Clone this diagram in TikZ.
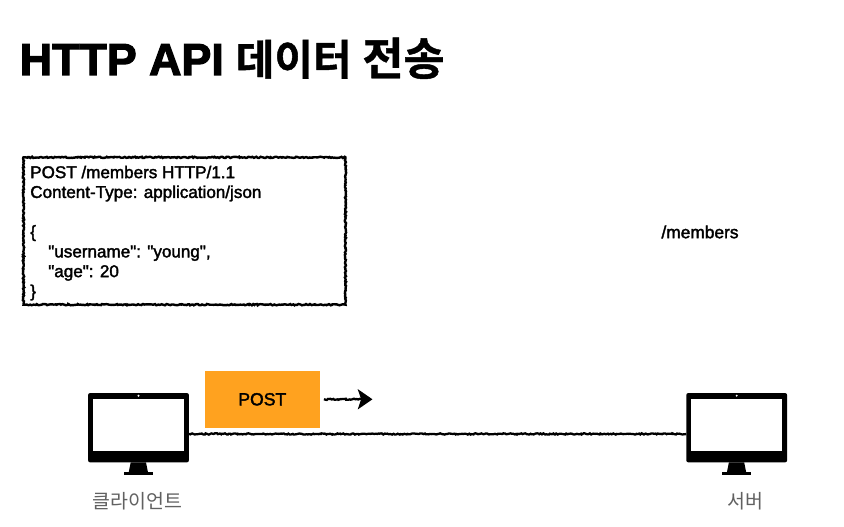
\documentclass[tikz,border=0pt]{standalone}
\usepackage{fontspec}
\setmainfont{Liberation Sans}
\newfontfamily\krbold{Noto Sans CJK KR Bold}[FakeBold=1]
\newfontfamily\krreg{Noto Sans CJK KR}
\newfontfamily\latbold{Liberation Sans}[FakeBold=2]
\newfontfamily\titlelat{Liberation Sans Bold}[FakeBold=2.5]
\usetikzlibrary{arrows.meta,decorations.pathmorphing,calc}
\definecolor{orange1}{HTML}{FFA21F}
\tikzset{
  rough/.style={decorate,decoration={random steps,segment length=1pt,amplitude=0.5pt}},
  monitor/.style={fill=black,rounded corners=1.5pt,minimum width=75.6pt,minimum height=52pt,inner sep=0pt,outer sep=0pt},
  screen/.style={fill=white,minimum width=68.4pt,minimum height=38.6pt,inner sep=0pt},
  devlabel/.style={text=black!62,font=\krreg\fontsize{14.6pt}{16pt}\selectfont,inner sep=0pt},
  msgbox/.style={draw=black,line width=1.8pt,rough,minimum width=241.5pt,minimum height=110.5pt,inner sep=0pt},
  msgtext/.style={align=left,anchor=north west,inner sep=0pt,font=\latbold\fontsize{12.8pt}{14.85pt}\selectfont},
  methodbox/.style={fill=orange1,minimum width=86pt,minimum height=42.5pt,inner sep=0pt,font=\latbold\fontsize{13.2pt}{14pt}\selectfont},
  wire/.style={draw=black,line width=1.7pt,rough},
}
\newcommand{\drawmonitor}[2]{%
  \node[monitor] (#1) at (#2,427.7) {};
  \node[screen] (#1scr) at ($(#1.center)+(0,-2.7)$) {};
  \fill[white] ($(#1.center)+(0,-32)$) circle (0.8pt);
  \fill[black] ($(#1.center)+(-7.8,34.7)$) -- ($(#1.center)+(7.5,34.7)$) -- ($(#1.center)+(9.5,44.6)$) -- ($(#1.center)+(-9.8,44.6)$) -- cycle;
  \fill[black] ($(#1.center)+(-14.5,44.6)$) rectangle ($(#1.center)+(14.5,47.6)$);
}
\begin{document}
\begin{tikzpicture}[x=0.75pt,y=-0.75pt]
\useasboundingbox[fill=white] (0,0) rectangle (844,527);
\node[anchor=base west,inner sep=0pt] (title) at (19.5,75) {\fontsize{33.6pt}{36pt}\selectfont{\titlelat HTTP API}\hspace{9pt}{\krbold\fontsize{31.5pt}{36pt}\selectfont 데이터}\hspace{8pt}{\krbold\fontsize{33.5pt}{36pt}\selectfont 전송}};
\node[msgbox] (msg) at (184.5,231) {};
\node[msgtext] (msgt) at (30,165.5) {POST /members HTTP/1.1\\Content-Type: application/json\\[14.85pt]\{\\\hspace*{13.5pt}"username": "young",\\\hspace*{13.5pt}"age": 20\\\}};
\node[inner sep=0pt,font=\latbold\fontsize{13pt}{14pt}\selectfont] (path) at (700,232) {/members};
\drawmonitor{client}{138.5}
\drawmonitor{server}{736.7}
\node[devlabel] (clientlabel) at (137.5,501.5) {클라이언트};
\node[devlabel] (serverlabel) at (745,501.5) {서버};
\node[methodbox] (post) at (262.3,399.3) {POST};
\coordinate (tip) at (372.5,399.3);
\path[wire,-{Stealth[length=11pt,width=15pt,inset=2.5pt]},decoration={post=lineto,post length=8pt}] ([xshift=3pt]post.east) -- (tip);
\path[wire] ([yshift=-4.7pt]client.east) -- ([yshift=-4.7pt]server.west);
\end{tikzpicture}
\end{document}
